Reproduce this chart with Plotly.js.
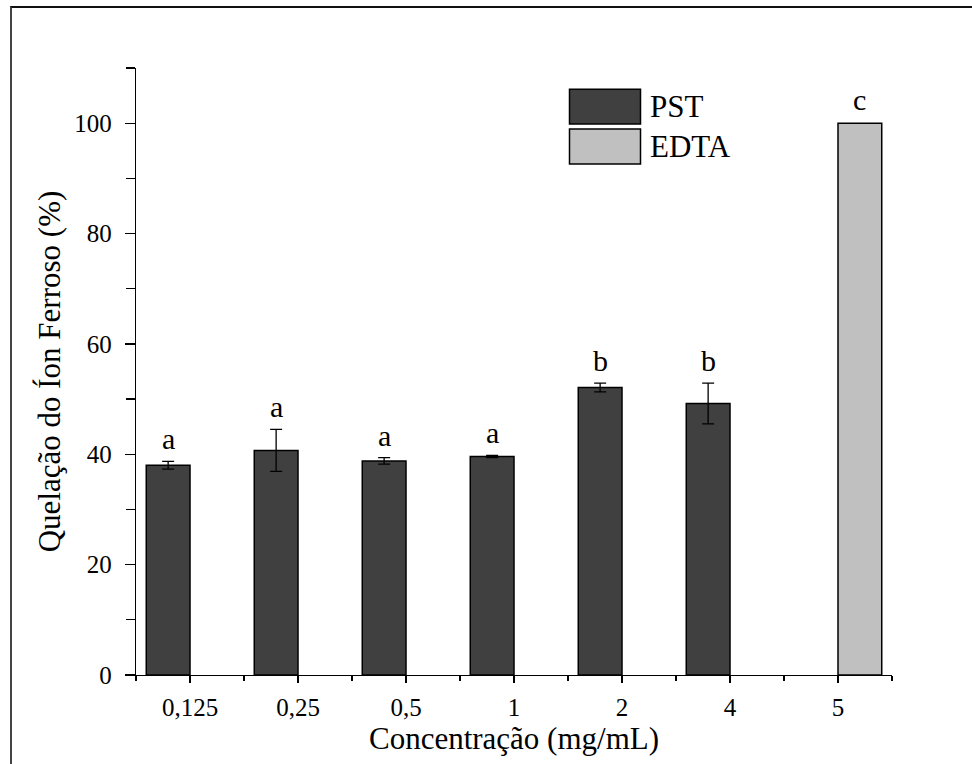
<!DOCTYPE html>
<html>
<head>
<meta charset="utf-8">
<script src="https://cdn.plot.ly/plotly-3.0.1.min.js"></script>
<style>
  html, body { margin: 0; padding: 0; background: #fff; width: 972px; height: 764px; overflow: hidden; }
  #frame { position: absolute; left: 10px; top: 6px; width: 962px; height: 758px;
           border-left: 2px solid #444; border-top: 2px solid #111; box-sizing: border-box; }
  #chart { position: absolute; left: 0; top: 0; width: 960px; height: 756px; }
</style>
</head>
<body>
<div id="frame"><div id="chart"></div></div>
<script>
// ---- data ----
const categories = ["0,125", "0,25", "0,5", "1", "2", "4", "5"];
const pstCats = ["0,125", "0,25", "0,5", "1", "2", "4"];
const pstValues = [38.0, 40.7, 38.8, 39.6, 52.1, 49.2];
const pstErrors = [0.7, 3.8, 0.6, 0.2, 0.8, 3.7];
const pstLetters = ["a", "a", "a", "a", "b", "b"];
const edtaCats = ["5"];
const edtaValues = [100];
const edtaLetters = ["c"];
const seriesNames = ["PST", "EDTA"];
const seriesColors = ["#404040", "#c0c0c0"];

const idx = c => categories.indexOf(c);
const FONT = "'Liberation Serif', 'Times New Roman', serif";

// style: each bar takes a half of the group width, PST left, EDTA right
const bargap = 0.19;
const barW = (1 - bargap) / 2;

const traces = [
  {
    type: "bar", name: seriesNames[0],
    x: pstCats.map(idx), y: pstValues,
    width: barW, offset: -barW,
    marker: { color: seriesColors[0], line: { color: "#000", width: 1.5 } },
    error_y: { type: "data", array: pstErrors, visible: true, color: "#000", thickness: 1.3, width: 6 },
    showlegend: false, hoverinfo: "skip"
  },
  {
    type: "bar", name: seriesNames[1],
    x: edtaCats.map(idx), y: edtaValues,
    width: barW, offset: 0,
    marker: { color: seriesColors[1], line: { color: "#000", width: 1.5 } },
    showlegend: false, hoverinfo: "skip"
  }
];

// plot geometry (chart-local pixels) used for style-only placement
const W = 960, H = 756;
const M = { l: 124, r: 80, t: 60, b: 89 };
const PW = W - M.l - M.r, PH = H - M.t - M.b;
const px2paperX = p => (p - 12 - M.l) / PW;   // page px -> paper
const px2paperY = p => 1 - (p - 8 - M.t) / PH;

const slotPx = PW / categories.length;
const barPx = slotPx * barW;

const annotations = [];
pstCats.forEach((c, i) => {
  annotations.push({
    x: idx(c), y: pstValues[i] + pstErrors[i], xref: "x", yref: "y",
    text: pstLetters[i], showarrow: false, xanchor: "center", yanchor: "bottom",
    xshift: -barPx / 2, yshift: 4, font: { family: FONT, size: 30, color: "#000" }
  });
});
edtaCats.forEach((c, i) => {
  annotations.push({
    x: idx(c), y: edtaValues[i], xref: "x", yref: "y",
    text: edtaLetters[i], showarrow: false, xanchor: "center", yanchor: "bottom",
    xshift: barPx / 2, yshift: 5, font: { family: FONT, size: 30, color: "#000" }
  });
});

// legend drawn with shapes + annotations (large swatches)
const shapes = [];
const legendRows = [[89.3, 124], [129, 164]];
seriesNames.forEach((n, i) => {
  const [y0, y1] = legendRows[i];
  shapes.push({
    type: "rect", xref: "paper", yref: "paper",
    x0: px2paperX(569.5), x1: px2paperX(640.5), y0: px2paperY(y1), y1: px2paperY(y0),
    fillcolor: seriesColors[i], line: { color: "#000", width: 1.5 }
  });
  annotations.push({
    xref: "paper", yref: "paper", x: px2paperX(648), y: px2paperY((y0 + y1) / 2),
    text: n, showarrow: false, xanchor: "left", yanchor: "middle",
    font: { family: FONT, size: 31, color: "#000" }
  });
});

const layout = {
  width: W, height: H,
  margin: M,
  paper_bgcolor: "rgba(0,0,0,0)", plot_bgcolor: "rgba(0,0,0,0)",
  barmode: "overlay",
  font: { family: FONT, color: "#000" },
  showlegend: false,
  xaxis: {
    type: "linear", range: [-0.5, categories.length - 0.5],
    tickvals: categories.map((c, i) => i), ticktext: categories,
    showgrid: false, zeroline: false, showline: true, linecolor: "#000", linewidth: 1.2,
    ticks: "outside", ticklen: 7, tickwidth: 1.2, tickcolor: "#000",
    minor: { tick0: 0.5, dtick: 1, ticks: "outside", ticklen: 5, tickwidth: 1.2, tickcolor: "#000", showgrid: false },
    tickfont: { family: FONT, size: 25, color: "#000" },
    ticklabelstandoff: 3,
    title: { text: "Concentração (mg/mL)", font: { family: FONT, size: 31, color: "#000" }, standoff: 6 },
    fixedrange: true
  },
  yaxis: {
    range: [0, 110], dtick: 20, tick0: 0,
    showgrid: false, zeroline: false, showline: true, linecolor: "#000", linewidth: 1.2,
    ticks: "outside", ticklen: 10, tickwidth: 1.2, tickcolor: "#000",
    minor: { dtick: 10, ticks: "outside", ticklen: 9, tickwidth: 1.2, tickcolor: "#000", showgrid: false },
    tickfont: { family: FONT, size: 25, color: "#000" },
    ticklabelstandoff: 8,
    title: { text: "Quelação do Íon Ferroso (%)", font: { family: FONT, size: 31, color: "#000" }, standoff: 4 },
    fixedrange: true
  },
  annotations: annotations,
  shapes: shapes
};

Plotly.newPlot("chart", traces, layout, { displayModeBar: false, staticPlot: true });
</script>
</body>
</html>
